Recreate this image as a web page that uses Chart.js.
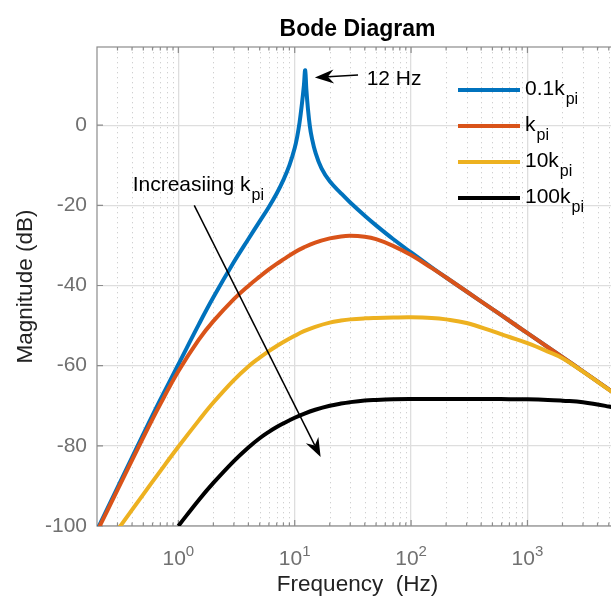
<!DOCTYPE html>
<html>
<head>
<meta charset="utf-8">
<script src="https://cdn.jsdelivr.net/npm/chart.js@4.4.1/dist/chart.umd.min.js"></script>
<style>
  html, body { margin: 0; padding: 0; background: #fff; overflow: hidden; }
  #wrap { width: 625px; height: 599px; }
</style>
</head>
<body>
<div id="wrap"><canvas id="bode"></canvas></div>
<script>
// frequency points (Hz) shared by the k, 10k and 100k curves
const freqHz = [0.2, 0.3, 0.5, 0.7, 1, 1.5, 2, 3, 4, 5,
  6, 7, 8, 10, 12, 15, 20, 25, 30, 40,
  50, 70, 100, 150, 200, 300, 500, 700, 1000, 1500,
  2000, 3000, 5000, 6000];
// the 0.1k curve needs more points around the 12 Hz resonance
const freqBlueHz = [0.2, 0.3, 0.5, 0.7, 1, 1.5, 2, 3, 4, 5,
  6, 7, 8, 9, 10, 10.5, 11, 11.5, 12, 12.3,
  12.6, 13, 13.5, 14, 15, 17, 20, 25, 30, 40,
  50, 70, 100, 150, 200, 300, 500, 700, 1000, 1500,
  2000, 3000, 5000, 6000];

// magnitudes (dB)
const mag01kpi = [-101, -90.4, -77.1, -68.5, -59.7, -49.7, -42.95, -34.15, -28.4, -24.0,
  -20.4, -17.05, -13.65, -10.05, -5.7, -2.9, 0.6, 5.0, 10.0, 13.7,
  8.8, 4.0, -0.3, -3.0, -6.6, -10.8, -14.0, -17.0, -19.3, -22.6,
  -25.0, -28.4, -31.75, -35.45, -38.0, -41.5, -45.9, -48.8, -51.9, -55.4,
  -57.9, -61.4, -65.9, -67.5];
const magKpi = [-101.4, -91.0, -77.9, -69.6, -61.4, -53.5, -48.9, -43.4, -40.1, -37.8,
  -36.0, -34.6, -33.5, -31.7, -30.5, -29.3, -28.25, -27.76, -27.6, -27.85,
  -28.45, -30.1, -32.4, -35.6, -38.0, -41.5, -45.9, -48.8, -51.9, -55.4,
  -57.9, -61.4, -65.9, -67.5];
const mag10kpi = [-108, -101, -92.1, -86.3, -80.25, -73.65, -69.2, -63.6, -60.2, -58,
  -56.35, -55.1, -54.1, -52.55, -51.4, -50.3, -49.25, -48.75, -48.45, -48.2,
  -48.1, -48.0, -47.95, -48.1, -48.45, -49.35, -51.4, -52.85, -54.4, -56.5,
  -58.15, -61.5, -66.0, -67.6];
const mag100kpi = [null, null, null, null, -100, -93.5, -89.25, -83.8, -80.4, -78.1,
  -76.5, -75.3, -74.4, -73.0, -72.0, -71.0, -70.0, -69.45, -69.1, -68.7,
  -68.55, -68.4, -68.33, -68.3, -68.3, -68.3, -68.3, -68.35, -68.4, -68.55,
  -68.75, -69.1, -70.2, -70.8];

const legendMain = ['0.1k', 'k', '10k', '100k'];
const legendSub = 'pi';
const lineColors = ['#0072BD', '#D95319', '#EDB120', '#000000'];
const xDecades = [1, 10, 100, 1000];
const xExponents = ['0', '1', '2', '3'];
const yTicks = [-100, -80, -60, -40, -20, 0];

const FONT = "'Liberation Sans', Arial, Helvetica, sans-serif";
const toPts = (xs, ys) => xs.map((x, i) => ({ x: x, y: ys[i] }));

function drawArrow(ctx, x0, y0, x1, y1) {
  const a = Math.atan2(y1 - y0, x1 - x0);
  const c = Math.cos(a), s = Math.sin(a);
  const len = 19, half = 7, notch = 13;
  ctx.beginPath();
  ctx.moveTo(x0, y0);
  ctx.lineTo(x1 - notch * c, y1 - notch * s);
  ctx.stroke();
  ctx.beginPath();
  ctx.moveTo(x1, y1);
  ctx.lineTo(x1 - len * c + half * s, y1 - len * s - half * c);
  ctx.lineTo(x1 - notch * c, y1 - notch * s);
  ctx.lineTo(x1 - len * c - half * s, y1 - len * s + half * c);
  ctx.closePath();
  ctx.fill();
}

function drawSubText(ctx, x, y, main, sub, size, subSize) {
  ctx.font = size + 'px ' + FONT;
  ctx.fillText(main, x, y);
  const w = ctx.measureText(main).width;
  ctx.font = subSize + 'px ' + FONT;
  ctx.fillText(sub, x + w + 1, y + 9);
}

const bodeDecor = {
  id: 'bodeDecor',
  beforeDatasetsDraw(chart) {
    const { ctx, chartArea: a, scales: { x, y } } = chart;
    ctx.save();
    // minor grid (dotted) for the log axis
    ctx.strokeStyle = '#d0d0d0';
    ctx.lineWidth = 1;
    ctx.setLineDash([1.3, 3.7]);
    const minors = [];
    for (let n = -1; n <= 3; n++) {
      for (let k = 2; k <= 9; k++) {
        const v = k * Math.pow(10, n);
        if (v > x.min && v < x.max) minors.push(v);
      }
    }
    minors.forEach(v => {
      const px = Math.round(x.getPixelForValue(v)) + 0.5;
      ctx.beginPath(); ctx.moveTo(px, a.top); ctx.lineTo(px, a.bottom); ctx.stroke();
    });
    ctx.setLineDash([]);
    // box
    ctx.strokeStyle = '#8c8c8c';
    ctx.lineWidth = 1.2;
    ctx.strokeRect(a.left, a.top, a.right - a.left, a.bottom - a.top);
    // tick marks, pointing inward
    ctx.beginPath();
    xDecades.forEach(v => {
      const px = x.getPixelForValue(v);
      ctx.moveTo(px, a.bottom); ctx.lineTo(px, a.bottom - 6);
      ctx.moveTo(px, a.top); ctx.lineTo(px, a.top + 6);
    });
    minors.forEach(v => {
      const px = x.getPixelForValue(v);
      ctx.moveTo(px, a.bottom); ctx.lineTo(px, a.bottom - 3.5);
      ctx.moveTo(px, a.top); ctx.lineTo(px, a.top + 3.5);
    });
    yTicks.forEach(v => {
      const py = y.getPixelForValue(v);
      ctx.moveTo(a.left, py); ctx.lineTo(a.left + 6, py);
    });
    ctx.stroke();
    ctx.restore();
  },
  afterDatasetsDraw(chart) {
    const { ctx, chartArea: a, scales: { x, y } } = chart;
    ctx.save();
    ctx.fillStyle = '#000';
    ctx.strokeStyle = '#000';
    ctx.lineWidth = 1.5;
    // "12 Hz" pointer
    drawArrow(ctx, x.getPixelForValue(35), y.getPixelForValue(12.5),
      x.getPixelForValue(14.9), y.getPixelForValue(11.9));
    ctx.font = '21px ' + FONT;
    ctx.textBaseline = 'alphabetic';
    ctx.fillText('12 Hz', x.getPixelForValue(41.5), y.getPixelForValue(10));
    // "Increasiing k_pi" pointer
    drawSubText(ctx, x.getPixelForValue(0.405), y.getPixelForValue(-16.5), 'Increasiing k', 'pi', 21, 16);
    drawArrow(ctx, x.getPixelForValue(1.37), y.getPixelForValue(-20),
      x.getPixelForValue(16.7), y.getPixelForValue(-82.8));
    // legend
    legendMain.forEach((label, i) => {
      const ly = a.top + 43 + i * 36;
      ctx.strokeStyle = lineColors[i];
      ctx.lineWidth = 4;
      ctx.beginPath(); ctx.moveTo(a.right - 160, ly); ctx.lineTo(a.right - 98, ly); ctx.stroke();
      ctx.fillStyle = '#000';
      drawSubText(ctx, a.right - 93, ly + 4.5, label, legendSub, 21, 16);
    });
    ctx.restore();
  },
  afterDraw(chart) {
    const { ctx, chartArea: a, scales: { x } } = chart;
    const cx = (a.left + a.right) / 2;
    ctx.save();
    ctx.textBaseline = 'alphabetic';
    // title
    ctx.fillStyle = '#000';
    ctx.textAlign = 'center';
    ctx.font = 'bold 23px ' + FONT;
    ctx.fillText('Bode Diagram', cx, 36);
    // x label
    ctx.fillStyle = '#222';
    ctx.font = '22.5px ' + FONT;
    ctx.fillText('Frequency  (Hz)', cx, 591);
    // y label
    ctx.save();
    ctx.translate(32, (a.top + a.bottom) / 2);
    ctx.rotate(-Math.PI / 2);
    ctx.fillText('Magnitude (dB)', 0, 0);
    ctx.restore();
    // x tick labels 10^n
    ctx.textAlign = 'left';
    ctx.fillStyle = '#707070';
    xDecades.forEach((v, i) => {
      const px = x.getPixelForValue(v);
      ctx.font = '21px ' + FONT;
      const w10 = ctx.measureText('10').width;
      ctx.font = '15px ' + FONT;
      const wE = ctx.measureText(xExponents[i]).width;
      const x0 = px - (w10 + wE) / 2;
      ctx.font = '21px ' + FONT;
      ctx.fillText('10', x0, a.bottom + 39);
      ctx.font = '15px ' + FONT;
      ctx.fillText(xExponents[i], x0 + w10, a.bottom + 30);
    });
    ctx.restore();
  }
};

new Chart(document.getElementById('bode').getContext('2d'), {
  type: 'line',
  data: {
    datasets: [
      { label: '0.1kpi', data: toPts(freqBlueHz, mag01kpi), borderColor: lineColors[0], order: 4 },
      { label: 'kpi', data: toPts(freqHz, magKpi), borderColor: lineColors[1], order: 3 },
      { label: '10kpi', data: toPts(freqHz, mag10kpi), borderColor: lineColors[2], order: 2 },
      { label: '100kpi', data: toPts(freqHz, mag100kpi), borderColor: lineColors[3], order: 1 }
    ]
  },
  options: {
    responsive: true, maintainAspectRatio: false, animation: false,
    layout: { padding: { top: 47, right: 7, bottom: 0, left: 0 } },
    plugins: { legend: { display: false }, title: { display: false }, tooltip: { enabled: false } },
    elements: {
      point: { radius: 0 },
      line: { borderWidth: 4, tension: 0.4, capBezierPoints: false, borderJoinStyle: 'round', fill: false }
    },
    scales: {
      x: {
        type: 'logarithmic', min: 0.2, max: 6000,
        afterBuildTicks: s => { s.ticks = xDecades.map(v => ({ value: v })); },
        afterFit: s => { s.height = 73; },
        ticks: { display: false },
        grid: { color: '#dedede', lineWidth: 1.3, drawTicks: false },
        border: { display: false }
      },
      y: {
        min: -100, max: 19.5,
        afterBuildTicks: s => { s.ticks = yTicks.map(v => ({ value: v })); },
        afterFit: s => { s.width = 97; },
        ticks: { font: { family: FONT, size: 21 }, color: '#707070', padding: 10, callback: v => String(v) },
        grid: { color: '#dedede', lineWidth: 1.3, drawTicks: false },
        border: { display: false }
      }
    }
  },
  plugins: [bodeDecor]
});
</script>
</body>
</html>
